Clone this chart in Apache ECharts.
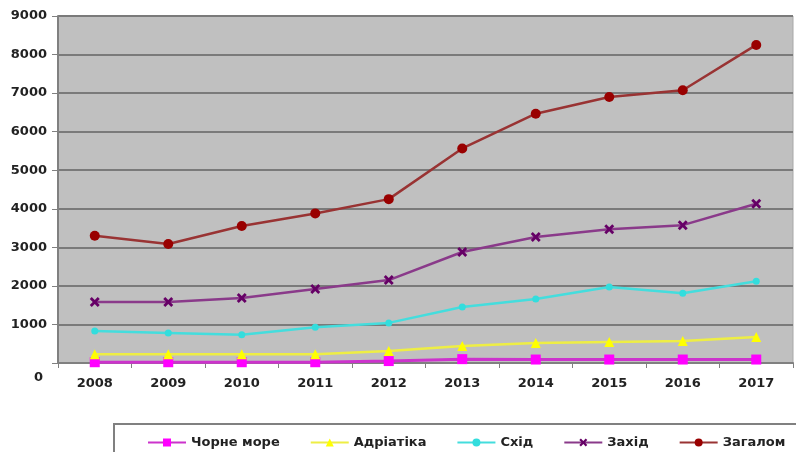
<!DOCTYPE html>
<html>
<head>
<meta charset="utf-8">
<script src="https://cdn.jsdelivr.net/npm/echarts@6/dist/echarts.min.js"></script>
<style>html,body{margin:0;padding:0;background:#fff;}#c{width:796px;height:452px;}</style>
</head>
<body>
<div id="c"></div>
<script>
const years = ['2008','2009','2010','2011','2012','2013','2014','2015','2016','2017'];
const blackSea = [20, 20, 20, 20, 50, 100, 90, 90, 90, 90];
const adriatic = [230, 230, 230, 230, 310, 440, 520, 545, 570, 675];
const east = [830, 780, 730, 930, 1040, 1450, 1660, 1970, 1810, 2120];
const west = [1580, 1580, 1685, 1920, 2150, 2880, 3270, 3470, 3575, 4130];
const total = [3300, 3085, 3555, 3880, 4250, 5565, 6465, 6900, 7075, 8250];
const seriesNames = ['Чорне море', 'Адріатіка', 'Схід', 'Захід', 'Загалом'];

const xMark = 'path://M0,2 L2,0 L5,3 L8,0 L10,2 L7,5 L10,8 L8,10 L5,7 L2,10 L0,8 L3,5 Z';
const font = 'DejaVu Sans';

const chart = echarts.init(document.getElementById('c'));
chart.setOption({
  animation: false,
  backgroundColor: '#ffffff',
  textStyle: { fontFamily: font },
  grid: {
    left: 58, right: 3, top: 16, bottom: 89,
    show: true, backgroundColor: '#c0c0c0', borderColor: '#a8a8a8', borderWidth: 1
  },
  graphic: [{
    type: 'rect', left: 113, top: 423, shape: { width: 700, height: 40 },
    style: { fill: '#ffffff', stroke: '#808080', lineWidth: 2 }, z: 0
  }],
  legend: {
    left: 142, top: 431, itemWidth: 38, itemHeight: 10, itemGap: 30,
    data: seriesNames,
    textStyle: { fontFamily: font, fontWeight: 'bold', fontSize: 13, color: '#222' },
    z: 5
  },
  xAxis: {
    type: 'category', data: years, boundaryGap: true,
    axisLine: { lineStyle: { color: '#808080', width: 2 } },
    axisTick: { show: true, length: 5, lineStyle: { color: '#808080' } },
    axisLabel: { margin: 14, fontFamily: font, fontWeight: 'bold', fontSize: 13, color: '#222' }
  },
  yAxis: {
    type: 'value', min: 0, max: 9000, interval: 1000,
    axisLine: { show: true, lineStyle: { color: '#808080', width: 2 } },
    axisTick: { show: true, length: 6, lineStyle: { color: '#808080' } },
    splitLine: { lineStyle: { color: '#7a7a7a', width: 2 } },
    axisLabel: {
      margin: 11, fontFamily: font, fontWeight: 'bold', fontSize: 13, color: '#222',
      formatter: v => v === 0 ? '{z|0}' : String(v),
      rich: { z: { fontFamily: font, fontWeight: 'bold', fontSize: 13, color: '#222', padding: [30, 4, 0, 0] } }
    }
  },
  series: [
    { name: seriesNames[0], type: 'line', data: blackSea, symbol: 'rect', symbolSize: 10,
      lineStyle: { color: '#cc33cc', width: 3 }, itemStyle: { color: '#ff00ff' } },
    { name: seriesNames[1], type: 'line', data: adriatic, symbol: 'triangle', symbolSize: 10,
      lineStyle: { color: '#eeee44', width: 2.5 }, itemStyle: { color: '#ffff00' } },
    { name: seriesNames[2], type: 'line', data: east, symbol: 'circle', symbolSize: 7,
      lineStyle: { color: '#44dddd', width: 2.5 }, itemStyle: { color: '#33dddd' } },
    { name: seriesNames[3], type: 'line', data: west, symbol: xMark, symbolSize: 10,
      lineStyle: { color: '#8a3a8a', width: 2.5 }, itemStyle: { color: '#660066' } },
    { name: seriesNames[4], type: 'line', data: total, symbol: 'circle', symbolSize: 10,
      lineStyle: { color: '#993333', width: 2.5 }, itemStyle: { color: '#990000' } }
  ]
});
</script>
</body>
</html>
